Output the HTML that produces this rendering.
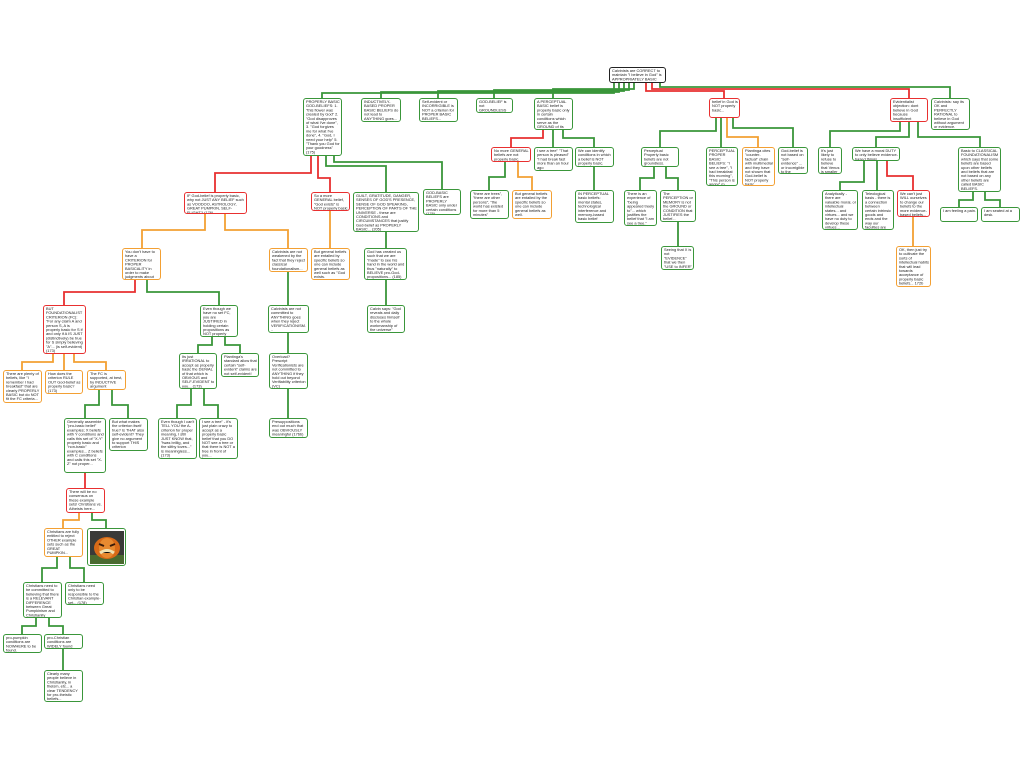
<!DOCTYPE html>
<html><head><meta charset="utf-8"><style>
body{margin:0;width:1024px;height:768px;background:#fff;position:relative;overflow:hidden;font-family:"Liberation Sans",sans-serif}
.b{position:absolute;box-sizing:border-box;border:1.5px solid #3a963a;border-radius:3px;background:#fff;color:#222;padding:1px 1.5px;overflow:hidden}
.b>i{display:block;font-style:normal;font-size:7.8px;line-height:8.4px;width:200%;transform:scale(.5);transform-origin:0 0;word-wrap:break-word}
.r{border-color:#e83030}.o{border-color:#f3a033}.k{border-color:#222}
svg{position:absolute;left:0;top:0}
</style></head><body>
<svg width="1024" height="768" fill="none" stroke-width="1.8">
<g stroke="#3a963a">
<path d="M614 83V93H322V98M619 83V92H381V98M624 83V91H438V98M629 83V90H494V98M634 83V89H553V98M660 83V87H950V98"/>
<path d="M326 156V166H386V192M334 156V162H442V189M147 280V292H219V305M288 272V305M288 333V353M288 389V418M386 232V248M386 280V305"/>
<path d="M99 390V405H85V418M112 390V405H128V418M212 337V345H198V353M225 337V345H240V353M191 389V405H177V418M204 389V405H218V418"/>
<path d="M92 513V520H106V528M57 557V568H42V582M70 557V568H84V582M36 618V626H22V634M49 618V626H63V634M63 649V670"/>
<path d="M553 130V147M563 130V138H594V147M505 162V177H489V190M594 167V190"/>
<path d="M716 118V131H660V147M721 118V147M733 118V128H793V147M654 167V178H640V190M666 167V178H678V190M678 222V246"/>
<path d="M900 122V131H830V147M909 122V137H876V147M918 122V137H980V147M864 161V182H840V190M877 161V190M973 192V200H959V207M985 192V200H1000V207"/>
</g>
<g stroke="#e83030">
<path d="M646 83V91H724V98M652 83V89H909V98M311 156V173H215V192M318 156V178H330V192M135 280V292H64V305M85 473V488M543 130V138H511V147M887 161V176H913V190"/>
</g>
<g stroke="#f3a033">
<path d="M205 214V230H142V248M225 214V230H288V248M330 211V248M53 354V362H22V370M64 354V370M74 354V362H106V370M79 513V520H63V528M518 162V177H532V190M727 118V137H758V147M913 217V246"/>
</g>
</svg>

<div class="b k" style="left:609px;top:67px;width:57px;height:16px"><i>Calvinists are CORRECT to maintain "I believe in God" is APPROPRIATELY BASIC belief.</i></div>

<div class="b" style="left:303px;top:98px;width:39px;height:58px"><i>PROPERLY BASIC GOD-BELIEFS: 1. "this flower was created by God" 2. "God disapproves of what I've done", 3. "God forgives me for what I've done", 4. "God, I need your help" 5. "Thank you God for your goodness" (175)</i></div>
<div class="b" style="left:361px;top:98px;width:40px;height:24px"><i>INDUCTIVELY-BASED PROPER BASIC BELIEFS do not lead to ANYTHING goes...</i></div>
<div class="b" style="left:419px;top:98px;width:39px;height:24px"><i>Self-evident or INCORRIGIBLE is NOT a criterion for PROPER BASIC BELIEFS...</i></div>
<div class="b" style="left:476px;top:98px;width:37px;height:15px"><i>GOD-BELIEF is not GROUNDLESS</i></div>
<div class="b" style="left:534px;top:98px;width:39px;height:32px"><i>A PERCEPTUAL BASIC belief is properly basic only in certain conditions which serve as the GROUND of its justification.</i></div>
<div class="b r" style="left:709px;top:98px;width:31px;height:20px"><i>belief in God is NOT properly basic...</i></div>
<div class="b r" style="left:890px;top:98px;width:38px;height:24px"><i>Evidentialist objection: dont believe in God because insufficient evidence.</i></div>
<div class="b" style="left:931px;top:98px;width:39px;height:32px"><i>Calvinists: say its OK and PERFECTLY RATIONAL to believe in God without argument or evidence.</i></div>

<div class="b r" style="left:491px;top:147px;width:40px;height:15px"><i>No more GENERAL beliefs are not properly basic.</i></div>
<div class="b" style="left:534px;top:147px;width:39px;height:24px"><i>I see a tree" "That person is pleased" "I had break fast more than an hour ago</i></div>
<div class="b" style="left:575px;top:147px;width:39px;height:20px"><i>We can identify conditions in which a belief is NOT properly basic.</i></div>
<div class="b" style="left:641px;top:147px;width:38px;height:20px"><i>Perceptual Properly basic beliefs are not groundless.</i></div>
<div class="b" style="left:706px;top:147px;width:32px;height:39px"><i>PERCEPTUAL PROPER BASIC BELIEFS: "I see a tree", "I had breakfast this morning", "This person is angry" (p. 174b)</i></div>
<div class="b o" style="left:742px;top:147px;width:33px;height:39px"><i>Plantinga cites "counter-factual" chain with multimedial and they have not shown that God-belief is NOT properly basic...</i></div>
<div class="b" style="left:778px;top:147px;width:30px;height:27px"><i>God-belief is not based on "self-evidence" ... or incorrigible to the SENSES...</i></div>
<div class="b" style="left:818px;top:147px;width:24px;height:27px"><i>It's just likely to refuse to believe that Venus is smaller than Jupiter...</i></div>
<div class="b" style="left:852px;top:147px;width:48px;height:14px"><i>We have a moral DUTY to only believe evidence-based things...</i></div>
<div class="b" style="left:958px;top:147px;width:43px;height:45px"><i>Basic to CLASSICAL FOUNDATIONALISM which says that some beliefs are based upon other beliefs and beliefs that are not based on any other beliefs are called BASIC BELIEFS.</i></div>

<div class="b r" style="left:184px;top:192px;width:63px;height:22px"><i>IF God-belief is properly basic, why not JUST ANY BELIEF such as VOODOO, ASTROLOGY, GREAT PUMPKIN, SELF-FLIGHT? (176)</i></div>
<div class="b r" style="left:311px;top:192px;width:39px;height:19px"><i>So a more GENERAL belief, "God exists" is NOT properly basic</i></div>
<div class="b" style="left:353px;top:192px;width:66px;height:40px"><i>GUILT, GRATITUDE, DANGER, SENSES OF GOD'S PRESENCE, SENSE OF GOD SPEAKING, PERCEPTION OF PARTS OF THE UNIVERSE - these are CONDITIONS and CIRCUMSTANCES that justify God-belief as PROPERLY BASIC... (205)</i></div>
<div class="b" style="left:423px;top:189px;width:38px;height:26px"><i>GOD-BASIC BELIEFS are PROPERLY BASIC only under certain conditions (176)</i></div>
<div class="b" style="left:470px;top:190px;width:39px;height:29px"><i>"there are trees", "there are other persons", "the world has existed for more than 5 minutes"</i></div>
<div class="b o" style="left:512px;top:190px;width:40px;height:29px"><i>But general beliefs are entailed by the specific beliefs so one can include general beliefs as well.</i></div>
<div class="b" style="left:575px;top:190px;width:39px;height:33px"><i>IN PERCEPTUAL basic beliefs: mental states, technological interference and memory-based basic belief ground...</i></div>
<div class="b" style="left:624px;top:190px;width:33px;height:36px"><i>There is an experience of "being appeared treely to"... which justifies the belief that "I am see a tree." (176b)</i></div>
<div class="b" style="left:660px;top:190px;width:36px;height:32px"><i>The PERCEPTION or MEMORY is not the GROUND or CONDITION that JUSTIFIES the belief...</i></div>
<div class="b" style="left:822px;top:190px;width:36px;height:40px"><i>Analytically - there are valuable moral, or intellectual states... and virtues... and we have no duty to develop these virtues...</i></div>
<div class="b" style="left:862px;top:190px;width:32px;height:40px"><i>Teleological basis - there is a connection between certain intrinsic goods and ends and the way our faculties are formed...</i></div>
<div class="b r" style="left:897px;top:190px;width:33px;height:27px"><i>We can't just WILL ourselves to change our beliefs to the more evidence-based beliefs...</i></div>
<div class="b" style="left:940px;top:207px;width:38px;height:15px"><i>I am feeling a pain.</i></div>
<div class="b" style="left:981px;top:207px;width:39px;height:15px"><i>I am seated at a desk.</i></div>

<div class="b o" style="left:122px;top:248px;width:39px;height:32px"><i>You don't have to have a CRITERION for PROPER BASICALITY in order to make judgments about proper basicality</i></div>
<div class="b o" style="left:269px;top:248px;width:39px;height:24px"><i>Calvinists are not weakened by the fact that they reject classical foundationalism...</i></div>
<div class="b o" style="left:311px;top:248px;width:39px;height:32px"><i>But general beliefs are entailed by specific beliefs so one can include general beliefs as well such as "God exists.</i></div>
<div class="b" style="left:364px;top:248px;width:43px;height:32px"><i>God has created us such that we are "made" to see his hand in the world and thus "naturally" to BELIEVE pro-God-propositions... (185)</i></div>
<div class="b" style="left:661px;top:246px;width:33px;height:24px"><i>Seeing that X is not "EVIDENCE" that we then "USE to INFER" X...</i></div>
<div class="b o" style="left:896px;top:246px;width:35px;height:41px"><i>OK, then just try to cultivate the sorts of intellectual habits that will lead towards acceptance of properly basic beliefs... 172b</i></div>

<div class="b r" style="left:43px;top:305px;width:43px;height:49px"><i>BUT FOUNDATIONALIST CRITERION (FC): "For any claim A and person S, A is properly basic for S if and only if A IS JUST (distinctively) be true for S simply believing "A"... (is self-evident) (173)</i></div>
<div class="b" style="left:200px;top:305px;width:38px;height:32px"><i>Even though we have no set FC, you are JUSTIFIED in holding certain propositions as NOT properly basic in certain conditions</i></div>
<div class="b" style="left:268px;top:305px;width:41px;height:28px"><i>Calvinists are not committed to ANYTHING goes when they reject VERIFICATIONISM...</i></div>
<div class="b" style="left:367px;top:305px;width:38px;height:28px"><i>Calvin says: "God reveals and daily discloses himself to the whole workmanship of the universe" (176b)</i></div>

<div class="b" style="left:179px;top:353px;width:38px;height:36px"><i>Its just IRRATIONAL to accept as properly basic the DENIAL of that which is OBVIOUS and SELF-EVIDENT to you... (173)</i></div>
<div class="b" style="left:221px;top:353px;width:38px;height:24px"><i>Plantinga's standard allow that certain "self-evident" claims are not self-evident!</i></div>
<div class="b" style="left:269px;top:353px;width:39px;height:36px"><i>Overload? Prescript Verificationists are not committed to ANYTHING if they hold out beyond Verifiability criterion (VC)</i></div>
<div class="b o" style="left:3px;top:370px;width:39px;height:33px"><i>There are plenty of beliefs, like "I remember I had breakfast" that are clearly PROPERLY BASIC but do NOT fit the FC criteria...</i></div>
<div class="b o" style="left:45px;top:370px;width:38px;height:24px"><i>How does the criterion RULE OUT God-belief as properly basic? (173)</i></div>
<div class="b o" style="left:87px;top:370px;width:39px;height:20px"><i>The FC is supported, at best, by INDUCTIVE argument</i></div>

<div class="b" style="left:64px;top:418px;width:42px;height:55px"><i>Generally assemble "pro-basic belief" examples; X beliefs with Y conditions and calls this set of "X-Y" properly basic and "non-basic" examples... Z beliefs with C conditions and calls this set "X-Z" not proper...</i></div>
<div class="b" style="left:109px;top:418px;width:39px;height:33px"><i>But what makes the criterion itself true? Is THAT also self-evident? They give no argument to support THIS criterion</i></div>
<div class="b" style="left:158px;top:418px;width:39px;height:41px"><i>Even though I can't TELL YOU the A-criterion for proper meaning, I still JUST KNOW that, "twas brillig, and the slithy toves..." is meaningless... (173)</i></div>
<div class="b" style="left:199px;top:418px;width:39px;height:41px"><i>I see a tree" - it's just plain crazy to accept as a properly basic belief that you DO NOT see a tree or that there is NOT a tree in front of you...</i></div>
<div class="b" style="left:269px;top:418px;width:39px;height:20px"><i>Presuppositions end out much that was OBVIOUSLY meaningful (176b)</i></div>

<div class="b r" style="left:66px;top:488px;width:39px;height:25px"><i>There will be no consensus on these example sets! Christians vs. Atheists here...</i></div>
<div class="b o" style="left:44px;top:528px;width:39px;height:29px"><i>Christians are fully entitled to reject OTHER example sets such as the GREAT PUMPKIN...</i></div>
<div class="b" style="left:87px;top:528px;width:39px;height:38px;padding:2px"><svg width="34" height="33" style="position:static;display:block"><rect width="34" height="33" fill="#3a3a38"/><rect y="24" width="34" height="9" fill="#4a6a30"/><ellipse cx="17" cy="17" rx="13" ry="11" fill="#d86a18"/><ellipse cx="17" cy="17" rx="8" ry="10" fill="#e88a30"/><path d="M9 13l5 2M25 13l-5 2" stroke="#3a1a08" stroke-width="2"/><path d="M10 22q7-5 14 0" stroke="#f0e0b0" stroke-width="3"/></svg></div>
<div class="b" style="left:23px;top:582px;width:39px;height:36px"><i>Christians need to be committed to believing that there is a RELEVANT DIFFERENCE between Great Pumpkinism and Christianity</i></div>
<div class="b" style="left:65px;top:582px;width:39px;height:23px"><i>Christians need only to be responsible to the Christian example-set... (178)</i></div>
<div class="b" style="left:3px;top:634px;width:39px;height:19px"><i>pro-pumpkin conditions are NOWHERE to be found.</i></div>
<div class="b" style="left:44px;top:634px;width:39px;height:15px"><i>pro-Christian conditions are WIDELY found</i></div>
<div class="b" style="left:44px;top:670px;width:39px;height:32px"><i>Clearly many people believe in Christianity, in theism, etc... a clear TENDENCY for pro-theistic beliefs...</i></div>
</body></html>
